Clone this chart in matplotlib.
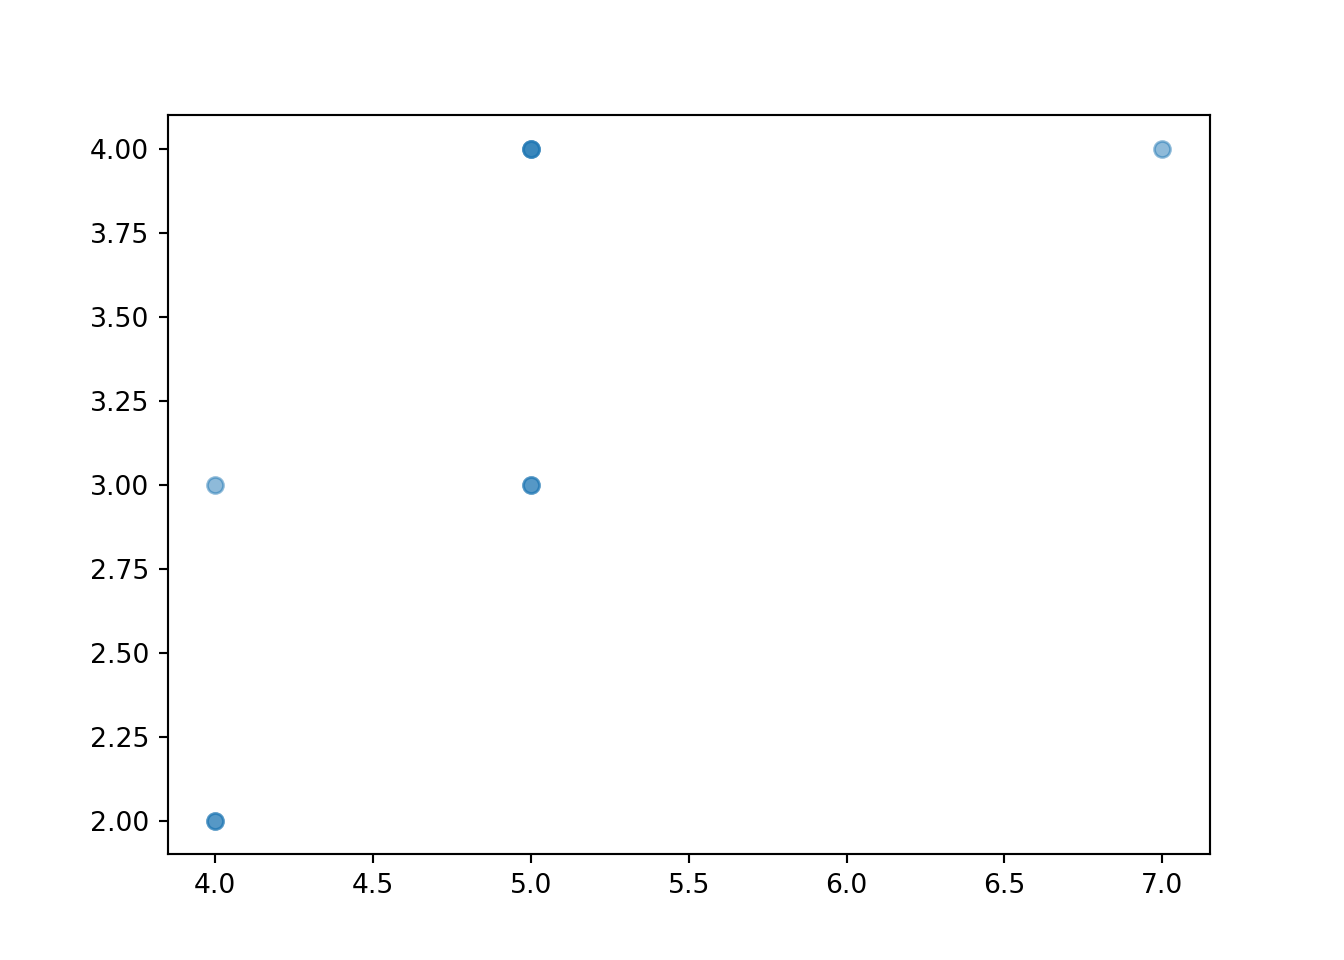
import matplotlib
matplotlib.use("Agg")
import matplotlib.pyplot as plt

# repeated points stack up with alpha to give the darker dots
x = [4, 4, 4, 5, 5, 5, 5, 5, 7]
y = [2, 2, 3, 3, 3, 4, 4, 4, 4]

fig = plt.figure(figsize=(7, 5), dpi=192)
plt.scatter(x, y, alpha=0.5)
plt.savefig("out.png", dpi=192)
